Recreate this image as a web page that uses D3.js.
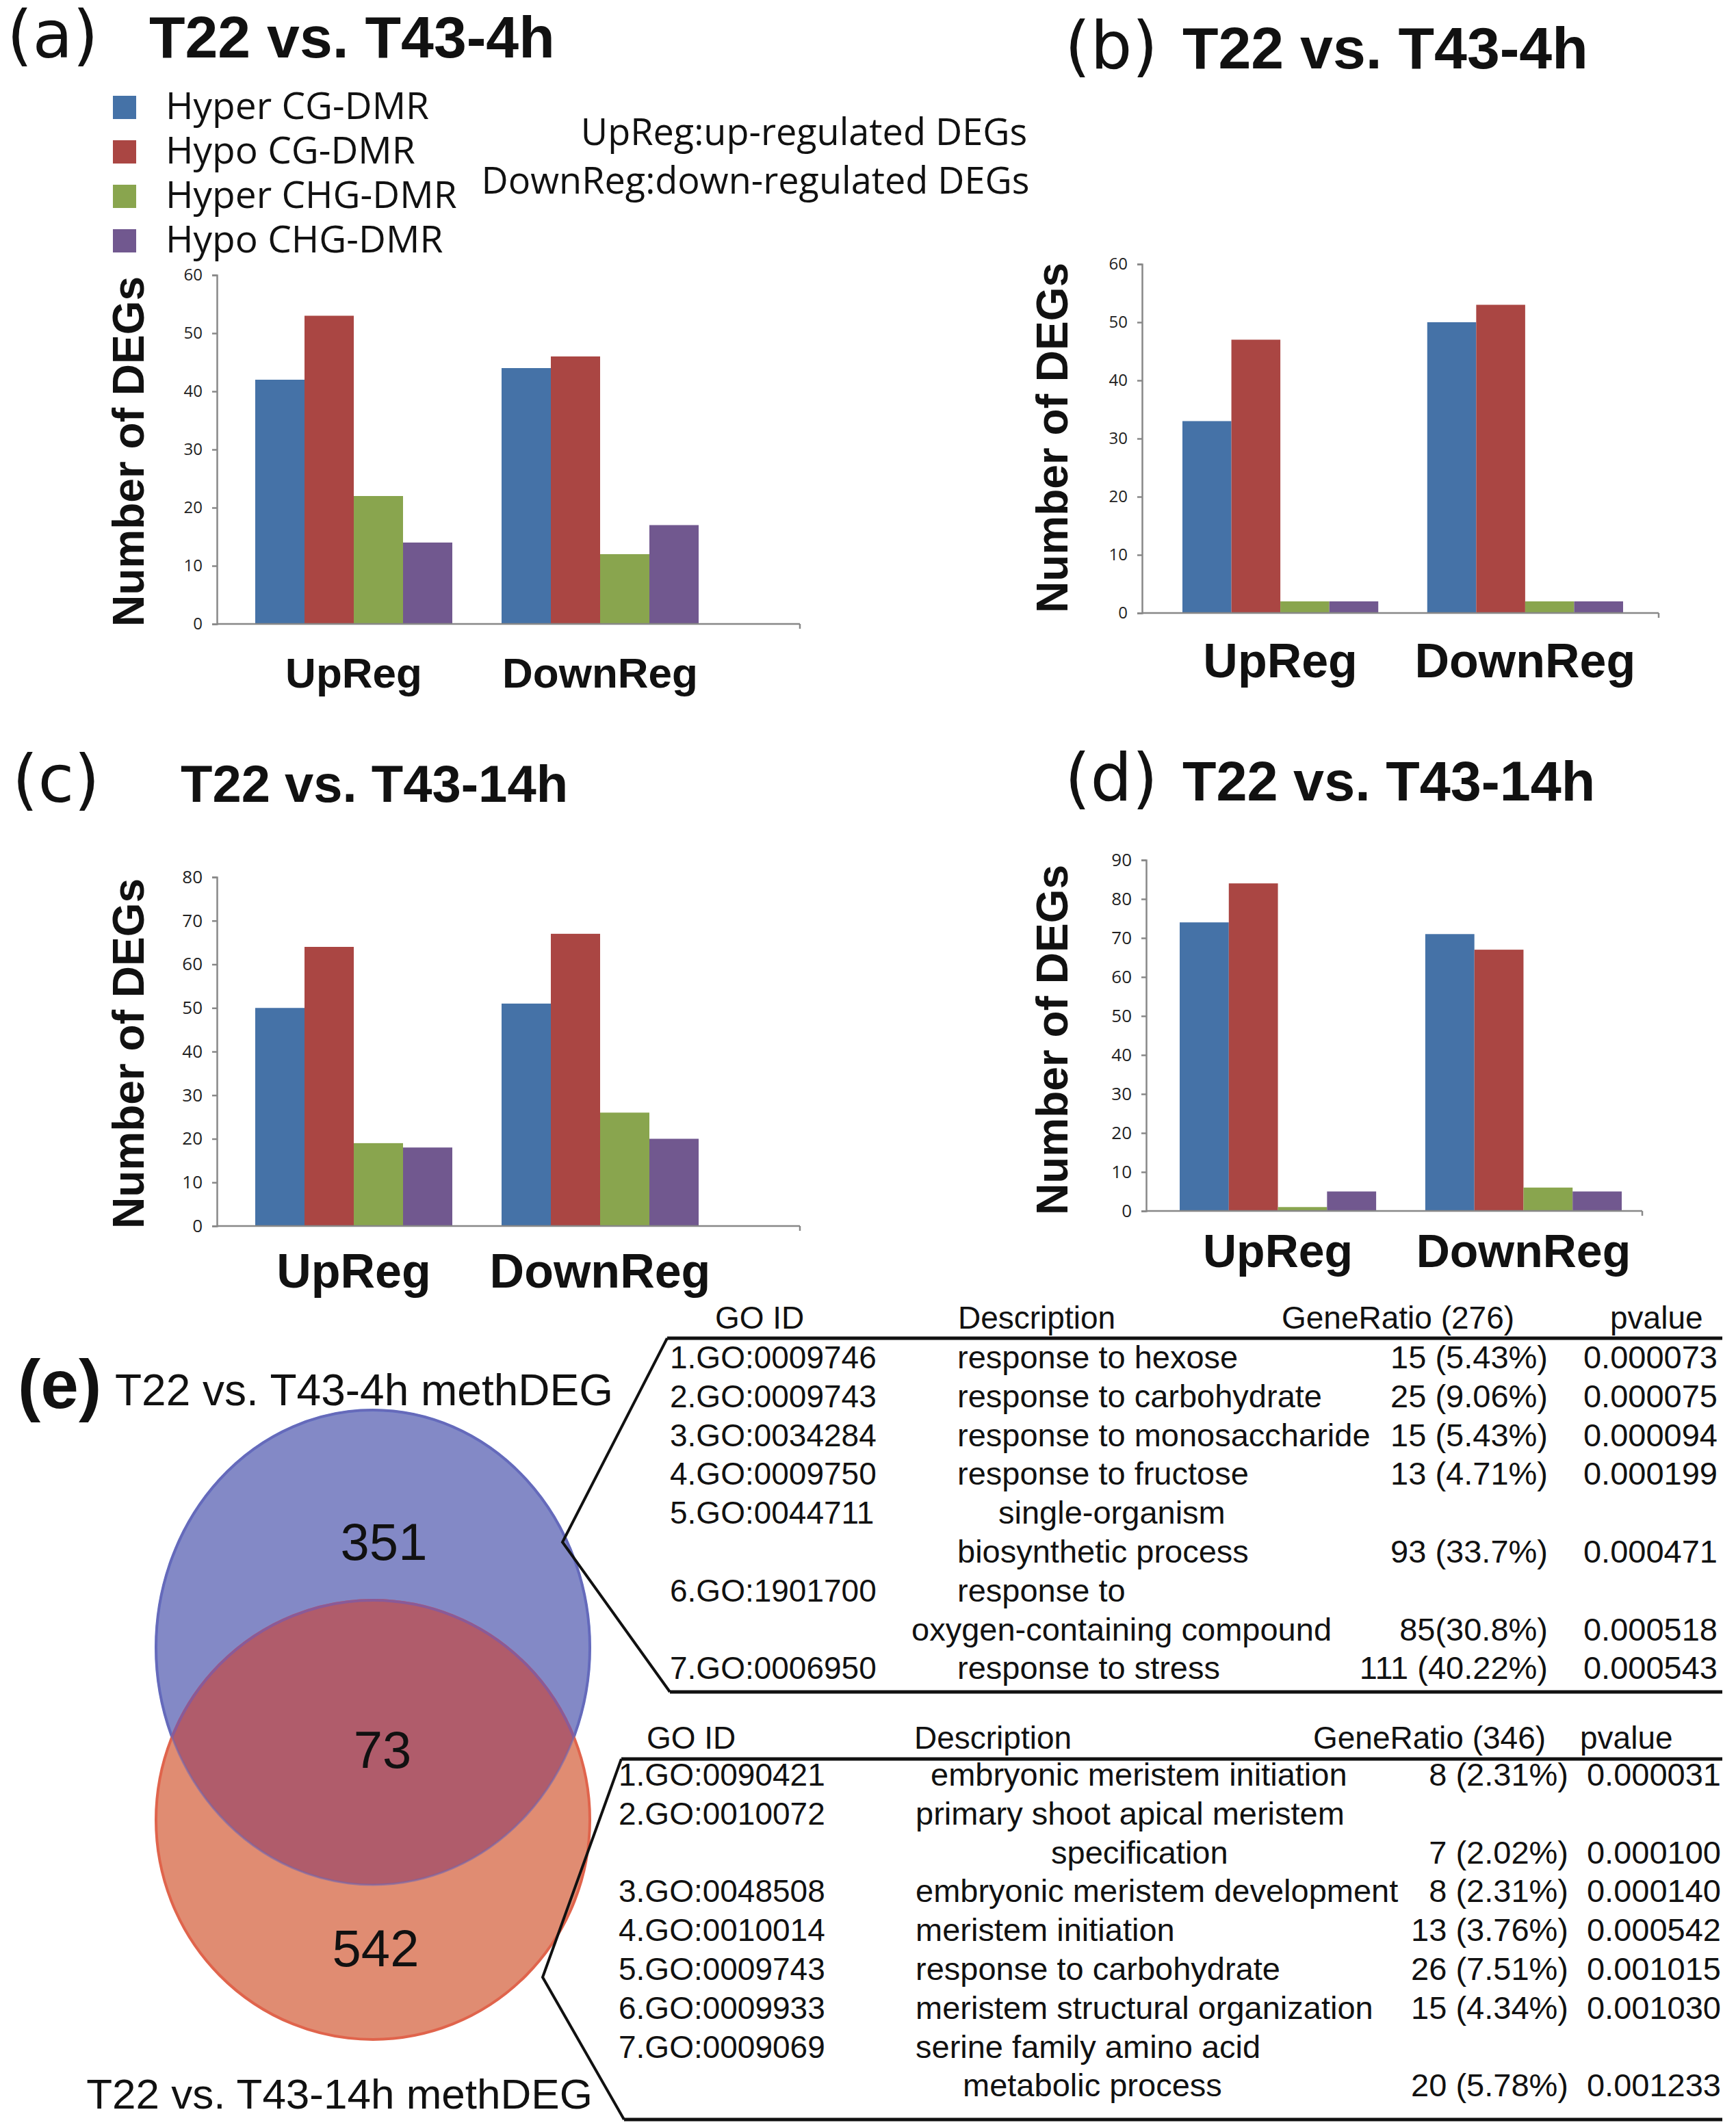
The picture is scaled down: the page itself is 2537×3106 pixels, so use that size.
<!DOCTYPE html>
<html>
<head>
<script src="https://d3js.org/d3.v7.min.js"></script>
<style>
body { margin: 0; background: #fff; }
svg { display: block; }
</style>
</head>
<body>
<script>
// data
let groups = ["UpReg", "DownReg"];
let series = ["Hyper CG-DMR", "Hypo CG-DMR", "Hyper CHG-DMR", "Hypo CHG-DMR"];
let colors = ["#4572a7", "#aa4643", "#89a54e", "#71588f"];
let valuesA = [[42, 53, 22, 14], [44, 46, 12, 17]];
let valuesB = [[33, 47, 2, 2], [50, 53, 2, 2]];
let valuesC = [[50, 64, 19, 18], [51, 67, 26, 20]];
let valuesD = [[74, 84, 1, 5], [71, 67, 6, 5]];
let vennCounts = [351, 73, 542];
let goHead1 = ["GO ID", "Description", "GeneRatio (276)", "pvalue"];
let goRows1 = [
  ["1.GO:0009746", "response to hexose", "15 (5.43%)", "0.000073"],
  ["2.GO:0009743", "response to carbohydrate", "25 (9.06%)", "0.000075"],
  ["3.GO:0034284", "response to monosaccharide", "15 (5.43%)", "0.000094"],
  ["4.GO:0009750", "response to fructose", "13 (4.71%)", "0.000199"],
  ["5.GO:0044711", "single-organism", "", ""],
  ["", "biosynthetic process", "93 (33.7%)", "0.000471"],
  ["6.GO:1901700", "response to", "", ""],
  ["", "oxygen-containing compound", "85(30.8%)", "0.000518"],
  ["7.GO:0006950", "response to stress", "111 (40.22%)", "0.000543"]
];
let goHead2 = ["GO ID", "Description", "GeneRatio (346)", "pvalue"];
let goRows2 = [
  ["1.GO:0090421", "embryonic meristem initiation", "8 (2.31%)", "0.000031"],
  ["2.GO:0010072", "primary shoot apical meristem", "", ""],
  ["", "specification", "7 (2.02%)", "0.000100"],
  ["3.GO:0048508", "embryonic meristem development", "8 (2.31%)", "0.000140"],
  ["4.GO:0010014", "meristem initiation", "13 (3.76%)", "0.000542"],
  ["5.GO:0009743", "response to carbohydrate", "26 (7.51%)", "0.001015"],
  ["6.GO:0009933", "meristem structural organization", "15 (4.34%)", "0.001030"],
  ["7.GO:0009069", "serine family amino acid", "", ""],
  ["", "metabolic process", "20 (5.78%)", "0.001233"]
];

let svg = d3.select("body").append("svg").attr("width", 2537).attr("height", 3106);
let sans = "'Liberation Sans', Arial, sans-serif";
let open = "'Open Sans', sans-serif";

function txt(x, y, s, size, opts) {
  opts = opts || {};
  return svg.append("text").attr("x", x).attr("y", y).text(s)
    .attr("font-family", opts.family || sans).attr("font-size", size)
    .attr("font-weight", opts.bold ? "bold" : "normal")
    .attr("text-anchor", opts.anchor || "start").attr("fill", "#111");
}

// bar panels
function panel(p) {
  let g = svg.append("g");
  let y = d3.scaleLinear().domain([0, p.max]).range([p.y0, p.yTop]);
  let x0 = d3.scaleBand().domain(groups).range([p.b0, p.b1]).paddingInner(0.2);
  let x1 = d3.scaleBand().domain(series).range([0, x0.bandwidth()]);
  p.values.forEach((vals, gi) => {
    g.selectAll(null).data(vals).enter().append("rect")
      .attr("x", (d, i) => x0(groups[gi]) + x1(series[i]))
      .attr("width", x1.bandwidth())
      .attr("y", d => y(d)).attr("height", d => p.y0 - y(d))
      .attr("fill", (d, i) => colors[i]);
  });
  let ax = g.append("g").attr("transform", `translate(${p.ax},0)`)
    .call(d3.axisLeft(y).tickValues(d3.range(0, p.max + 1, 10)).tickSize(7).tickPadding(14));
  ax.selectAll("path,line").attr("stroke", "#888").attr("stroke-width", 2.5);
  ax.selectAll("text").attr("font-family", open).attr("font-size", p.tf).attr("fill", "#222");
  g.append("line").attr("x1", p.ax).attr("x2", p.right).attr("y1", p.y0).attr("y2", p.y0)
    .attr("stroke", "#888").attr("stroke-width", 2.5);
  g.append("line").attr("x1", p.right).attr("x2", p.right).attr("y1", p.y0).attr("y2", p.y0 + 7)
    .attr("stroke", "#888").attr("stroke-width", 2.5);
  groups.forEach(gr => txt(x0(gr) + x0.bandwidth() / 2, p.catY, gr, p.cf, {bold: true, anchor: "middle"}));
  svg.append("text").attr("transform", `translate(${p.labX},${p.labY}) rotate(-90)`)
    .text("Number of DEGs").attr("font-family", sans).attr("font-weight", "bold")
    .attr("font-size", 64).attr("text-anchor", "middle").attr("fill", "#111");
  txt(p.tx, p.ty, p.letter, 96, {family: "'DejaVu Sans', sans-serif"});
  txt(p.tx + p.tOff, p.ty, p.title, p.tsz, {bold: true});
}

panel({values: valuesA, max: 60, ax: 317, right: 1169, y0: 912, yTop: 402, b0: 373, b1: 1021, tf: 24,
  catY: 1005, cf: 62, labX: 210, labY: 660, letter: "(a)", title: "T22 vs. T43-4h", tx: 10, ty: 84, tOff: 208, tsz: 86});
panel({values: valuesB, max: 60, ax: 1669, right: 2424, y0: 896, yTop: 386, b0: 1728, b1: 2372, tf: 24,
  catY: 990, cf: 70, labX: 1560, labY: 640, letter: "(b)", title: "T22 vs. T43-4h", tx: 1556, ty: 100, tOff: 172, tsz: 86});
panel({values: valuesC, max: 80, ax: 317, right: 1169, y0: 1792, yTop: 1282, b0: 373, b1: 1021, tf: 26,
  catY: 1882, cf: 70, labX: 210, labY: 1540, letter: "(c)", title: "T22 vs.  T43-14h", tx: 18, ty: 1172, tOff: 246, tsz: 76});
panel({values: valuesD, max: 90, ax: 1675, right: 2400, y0: 1770, yTop: 1257, b0: 1724, b1: 2370, tf: 26,
  catY: 1852, cf: 68, labX: 1560, labY: 1520, letter: "(d)", title: "T22 vs.  T43-14h", tx: 1556, ty: 1170, tOff: 172, tsz: 81});

// legend and notes
series.forEach((s, i) => {
  svg.append("rect").attr("x", 165).attr("y", 140 + i * 65).attr("width", 34).attr("height", 34).attr("fill", colors[i]);
  txt(242, 174 + i * 65, s, 55, {family: open});
});
txt(1175, 212, "UpReg:up-regulated DEGs", 54, {family: open, anchor: "middle"});
txt(1104, 283, "DownReg:down-regulated DEGs", 54, {family: open, anchor: "middle"});

// venn
let c1 = {cx: 545, cy: 2408, rx: 317, ry: 347};
let c2 = {cx: 545, cy: 2660, rx: 317, ry: 321};
svg.append("clipPath").attr("id", "clipTop").append("ellipse")
  .attr("cx", c1.cx).attr("cy", c1.cy).attr("rx", c1.rx).attr("ry", c1.ry);
svg.append("ellipse").attr("cx", c1.cx).attr("cy", c1.cy).attr("rx", c1.rx).attr("ry", c1.ry)
  .attr("fill", "#8389c6").attr("stroke", "#5b6fc6").attr("stroke-width", 4);
svg.append("ellipse").attr("cx", c2.cx).attr("cy", c2.cy).attr("rx", c2.rx).attr("ry", c2.ry)
  .attr("fill", "#e08c72").attr("stroke", "#e0644c").attr("stroke-width", 4);
svg.append("ellipse").attr("cx", c2.cx).attr("cy", c2.cy).attr("rx", c2.rx).attr("ry", c2.ry)
  .attr("clip-path", "url(#clipTop)").attr("fill", "#b05c6b").attr("stroke", "#8a5a98").attr("stroke-width", 4);
svg.append("ellipse").attr("cx", c1.cx).attr("cy", c1.cy).attr("rx", c1.rx).attr("ry", c1.ry)
  .attr("fill", "none").attr("stroke", "#7066b0").attr("stroke-width", 3).attr("stroke-opacity", 0.6);
[[561, 2280], [559, 2584], [549, 2874]].forEach((p, i) => txt(p[0], p[1], vennCounts[i], 76, {anchor: "middle"}));
txt(26, 2058, "(e)", 100, {bold: true});
txt(168, 2054, "T22 vs.  T43-4h methDEG", 64);
txt(496, 3082, "T22 vs. T43-14h methDEG", 62, {anchor: "middle"});

// GO tables
function table(head, rows, t) {
  head.forEach((h, i) => txt(t.hx[i], t.hy, h, 46));
  svg.append("line").attr("x1", t.left).attr("x2", 2517).attr("y1", t.top).attr("y2", t.top)
    .attr("stroke", "#111").attr("stroke-width", 5);
  svg.append("line").attr("x1", t.left + 4).attr("x2", 2517).attr("y1", t.bottom).attr("y2", t.bottom)
    .attr("stroke", "#111").attr("stroke-width", 5);
  svg.append("polyline").attr("points", `${t.left},${t.top} ${t.px},${t.py} ${t.left + 4},${t.bottom}`)
    .attr("fill", "none").attr("stroke", "#111").attr("stroke-width", 4);
  rows.forEach((r, i) => {
    let yy = t.r0 + i * t.step;
    txt(t.idx, yy, r[0], 46);
    let dx = t.descX[i] !== undefined ? t.descX[i] : t.dx;
    txt(dx, yy, r[1], 47);
    txt(t.gr, yy, r[2], 47, {anchor: "end"});
    txt(t.pv, yy, r[3], 47, {anchor: "end"});
  });
}
table(goHead1, goRows1, {hx: [1045, 1400, 1873, 2353], hy: 1942, left: 975, top: 1956, bottom: 2473,
  px: 822, py: 2254, r0: 2000, step: 56.8, idx: 979, dx: 1399, descX: {4: 1459, 7: 1332},
  gr: 2262, pv: 2510});
table(goHead2, goRows2, {hx: [945, 1336, 1919, 2309], hy: 2556, left: 908, top: 2571, bottom: 3098,
  px: 793, py: 2890, r0: 2610, step: 56.8, idx: 904, dx: 1338, descX: {0: 1360, 2: 1536, 8: 1407},
  gr: 2292, pv: 2515});
</script>
</body>
</html>
